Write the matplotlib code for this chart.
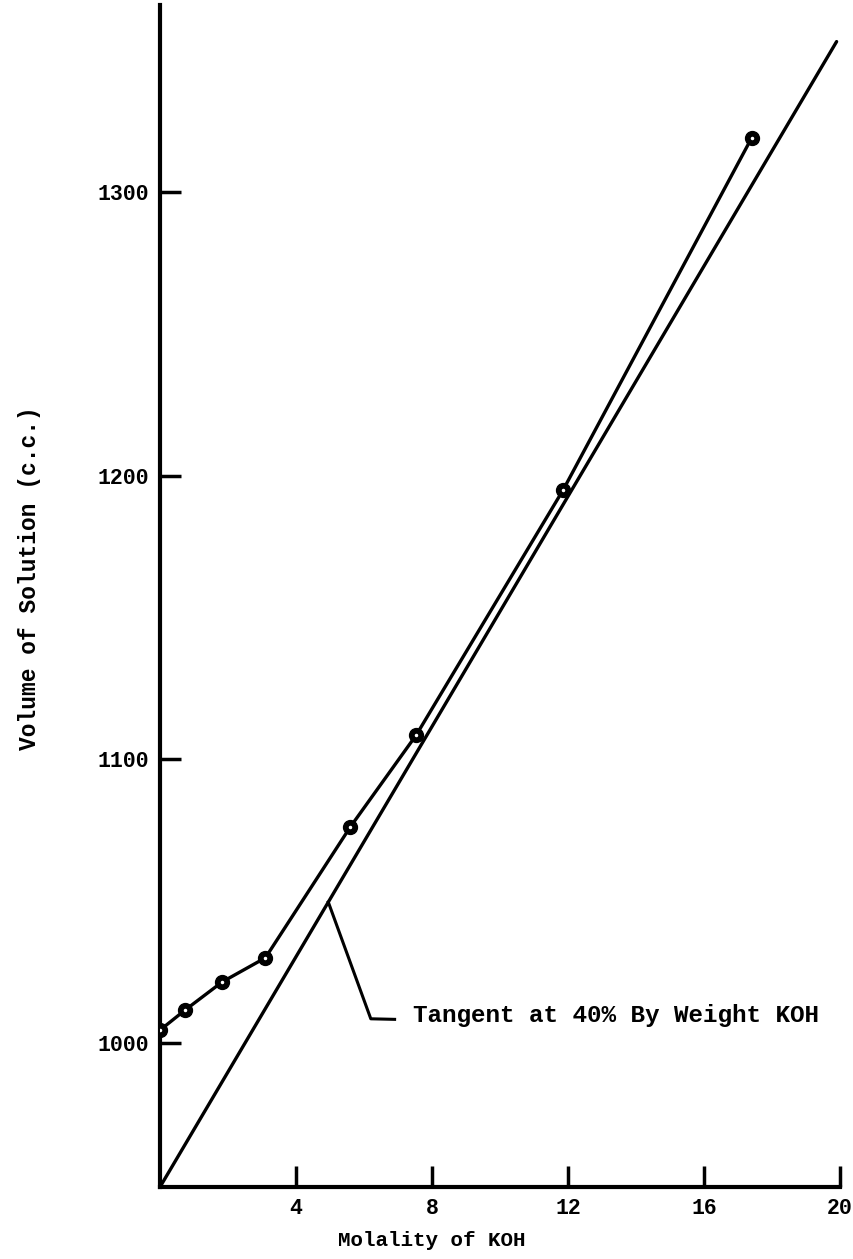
import matplotlib
matplotlib.use("Agg")
import matplotlib.pyplot as plt

# Data
molality = [0.0, 0.74, 1.83, 3.1, 5.59, 7.54, 11.86, 17.4]
volume = [1004.5, 1011.6, 1021.5, 1030.0, 1076.0, 1108.6, 1195.0, 1319.0]

tangent_x = [0.0, 19.9]
tangent_y = [949.2, 1353.0]

x_ticks = [4, 8, 12, 16, 20]
y_ticks = [1000, 1100, 1200, 1300]

FONT = ["Liberation Mono", "DejaVu Sans Mono"]
plt.rcParams["font.family"] = FONT

W, H = 854, 1259
fig = plt.figure(figsize=(W / 100, H / 100), dpi=100)
ax_l, ax_r, ax_b, ax_t = 160, 840, 1187, 5
ax = fig.add_axes([ax_l / W, (H - ax_b) / H, (ax_r - ax_l) / W, (ax_b - ax_t) / H])

ax.set_xlim(0, 20)
ax.set_ylim(949.2, 1365.9)

# curve through data points
ax.plot(molality, volume, color="black", lw=2.4, zorder=3,
        marker="o", markersize=10, markerfacecolor="black",
        markeredgecolor="black", solid_capstyle="round")
ax.plot(molality, volume, linestyle="none", marker="o", markersize=1.5,
        markerfacecolor="white", markeredgecolor="white", zorder=4)

# tangent line
ax.plot(tangent_x, tangent_y, color="black", lw=2.4, zorder=2,
        solid_capstyle="round")

# annotation leader
lx0 = 4.95
ly0 = tangent_y[0] + (tangent_y[1] - tangent_y[0]) / (tangent_x[1] - tangent_x[0]) * lx0
ax.plot([lx0, 6.2, 6.9], [ly0, 1008.5, 1008.3], color="black", lw=2.2,
        solid_joinstyle="round", zorder=2)
ax.text(7.45, 1009.5, "Tangent at 40% By Weight KOH", fontsize=17.5,
        fontweight="bold", va="center", ha="left")

# spines
for s in ["top", "right"]:
    ax.spines[s].set_visible(False)
for s in ["left", "bottom"]:
    ax.spines[s].set_linewidth(3.0)

ax.set_xticks(x_ticks)
ax.set_yticks(y_ticks)
ax.tick_params(axis="both", direction="in", length=15, width=2.5,
               labelsize=15.5, pad=8)
for lab in ax.get_xticklabels() + ax.get_yticklabels():
    lab.set_fontweight("bold")

fig.text(432 / W, 1 - 1241 / H, "Molality of KOH", fontsize=15,
         fontweight="bold", ha="center", va="center")
fig.text(30 / W, 1 - 578 / H, "Volume of Solution (c.c.)", fontsize=16.5,
         fontweight="bold", ha="center", va="center", rotation=90)

fig.savefig("out.png", dpi=100)
